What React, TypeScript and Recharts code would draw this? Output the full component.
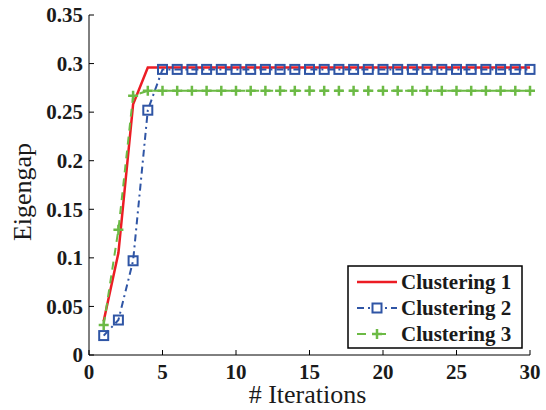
import React from 'react';
import { LineChart, Line, XAxis, YAxis, Legend } from 'recharts';

const iterations = [1, 2, 3, 4, 5, 6, 7, 8, 9, 10, 11, 12, 13, 14, 15, 16, 17, 18, 19, 20, 21, 22, 23, 24, 25, 26, 27, 28, 29, 30];
const clustering1 = [0.035, 0.105, 0.258, 0.296, 0.296, 0.296, 0.296, 0.296, 0.296, 0.296, 0.296, 0.296, 0.296, 0.296, 0.296, 0.296, 0.296, 0.296, 0.296, 0.296, 0.296, 0.296, 0.296, 0.296, 0.296, 0.296, 0.296, 0.296, 0.296, 0.296];
const clustering2 = [0.02, 0.036, 0.097, 0.252, 0.294, 0.294, 0.294, 0.294, 0.294, 0.294, 0.294, 0.294, 0.294, 0.294, 0.294, 0.294, 0.294, 0.294, 0.294, 0.294, 0.294, 0.294, 0.294, 0.294, 0.294, 0.294, 0.294, 0.294, 0.294, 0.294];
const clustering3 = [0.031, 0.129, 0.267, 0.272, 0.272, 0.272, 0.272, 0.272, 0.272, 0.272, 0.272, 0.272, 0.272, 0.272, 0.272, 0.272, 0.272, 0.272, 0.272, 0.272, 0.272, 0.272, 0.272, 0.272, 0.272, 0.272, 0.272, 0.272, 0.272, 0.272];
const seriesNames = ['Clustering 1', 'Clustering 2', 'Clustering 3'];
const xTicks = [0, 5, 10, 15, 20, 25, 30];
const yTicks = [0, 0.05, 0.1, 0.15, 0.2, 0.25, 0.3, 0.35];
const yTickLabels = ['0', '0.05', '0.1', '0.15', '0.2', '0.25', '0.3', '0.35'];

const data = iterations.map((it, i) => ({ it, c1: clustering1[i], c2: clustering2[i], c3: clustering3[i] }));

const FONT = 'Tinos, FreeSerif, serif';
const RED = '#ec1c24';
const BLUE = '#2f55a5';
const GREEN = '#6cba45';
const TICK_LEN = 5;

const yLabelFor = (v: number) => {
  const idx = yTicks.findIndex((t) => Math.abs(t - v) < 1e-9);
  return idx >= 0 ? yTickLabels[idx] : String(v);
};

const BoldText = (p: any) => (
  <text
    x={p.x}
    y={p.y}
    dy={p.dy}
    textAnchor={p.anchor}
    fill="#1a1a1a"
    style={{ fontFamily: FONT, fontWeight: 700, fontSize: 21 }}
  >
    {p.children}
  </text>
);

const BottomTick = (p: any) => (
  <g>
    <line x1={p.x} y1={p.y} x2={p.x} y2={p.y - TICK_LEN} stroke="#000" strokeWidth={1} />
    <BoldText x={p.x} y={p.y + 24} anchor="middle">{String(p.payload.value)}</BoldText>
  </g>
);
const TopTick = (p: any) => (
  <line x1={p.x} y1={p.y} x2={p.x} y2={p.y + TICK_LEN} stroke="#000" strokeWidth={1} />
);
const LeftTick = (p: any) => (
  <g>
    <line x1={p.x} y1={p.y} x2={p.x + TICK_LEN} y2={p.y} stroke="#000" strokeWidth={1} />
    <BoldText x={p.x - 6} y={p.y} dy="0.35em" anchor="end">{yLabelFor(p.payload.value)}</BoldText>
  </g>
);
const RightTick = (p: any) => (
  <line x1={p.x} y1={p.y} x2={p.x - TICK_LEN} y2={p.y} stroke="#000" strokeWidth={1} />
);

const SquareDot = (p: any) => {
  if (p.cx == null || p.cy == null) return <g key={p.index} />;
  return (
    <rect key={p.index} x={p.cx - 4.5} y={p.cy - 4.5} width={9} height={9} fill="none" stroke={BLUE} strokeWidth={2} />
  );
};
const PlusDot = (p: any) => {
  if (p.cx == null || p.cy == null) return <g key={p.index} />;
  return (
    <path key={p.index} d={`M${p.cx - 5},${p.cy}h10M${p.cx},${p.cy - 5}v10`} stroke={GREEN} strokeWidth={2.5} fill="none" />
  );
};

const renderLegend = () => (
  <svg width={176} height={84} style={{ display: 'block' }}>
    <rect x={1} y={1} width={174} height={82} fill="#fff" stroke="#000" strokeWidth={1.5} />
    <line x1={10} y1={17} x2={50} y2={17} stroke={RED} strokeWidth={2.5} />
    <line x1={10} y1={43} x2={50} y2={43} stroke={BLUE} strokeWidth={2} strokeDasharray="7 4 2 4" />
    <rect x={25.5} y={38.5} width={9} height={9} fill="#fff" stroke={BLUE} strokeWidth={2} />
    <line x1={10} y1={69} x2={50} y2={69} stroke={GREEN} strokeWidth={2} strokeDasharray="9 11" />
    <path d="M25,69h10M30,64v10" stroke={GREEN} strokeWidth={2.5} />
    {seriesNames.map((n, i) => (
      <BoldText key={n} x={54} y={17 + i * 26} dy="0.33em" anchor="start">{n}</BoldText>
    ))}
  </svg>
);

const PlainText = (p: any) => (
  <text
    x={p.x}
    y={p.y}
    transform={p.transform}
    textAnchor="middle"
    fill="#1a1a1a"
    style={{ fontFamily: FONT, fontSize: 26, fontWeight: 400 }}
  >
    {p.children}
  </text>
);

const YLabel = (props: any) => {
  const vb = props.viewBox || { x: 0, y: 15, width: 89, height: 340 };
  const cx = 31;
  const cy = vb.y + vb.height / 2 + 7;
  return <PlainText x={cx} y={cy} transform={`rotate(-90 ${cx} ${cy})`}>Eigengap</PlainText>;
};
const XLabel = (props: any) => {
  const vb = props.viewBox || { x: 89, y: 355, width: 441, height: 55 };
  const cx = vb.x + vb.width / 2 - 2;
  return <PlainText x={cx} y={403}>{'# Iterations'}</PlainText>;
};

export default function App() {
  return (
    <div style={{ position: 'absolute', left: 0, top: 0, width: 546, height: 410, background: '#fff', fontFamily: FONT }}>
      <LineChart width={546} height={410} data={data} margin={{ top: 15, right: 16, bottom: 0, left: 0 }}>
        <XAxis
          dataKey="it"
          type="number"
          domain={[0, 30]}
          ticks={xTicks}
          height={55}
          tickSize={0}
          tickMargin={0}
          tickLine={false}
          tick={BottomTick}
          axisLine={{ stroke: '#000', strokeWidth: 1 }}
          interval={0}
          label={{ content: XLabel }}
        />
        <XAxis
          xAxisId="top"
          orientation="top"
          dataKey="it"
          type="number"
          domain={[0, 30]}
          ticks={xTicks}
          height={0}
          tickSize={0}
          tickMargin={0}
          tickLine={false}
          tick={TopTick}
          axisLine={{ stroke: '#000', strokeWidth: 1 }}
          interval={0}
        />
        <YAxis
          type="number"
          domain={[0, 0.35]}
          ticks={yTicks}
          width={89}
          tickSize={0}
          tickMargin={0}
          tickLine={false}
          tick={LeftTick}
          axisLine={{ stroke: '#000', strokeWidth: 1 }}
          interval={0}
          label={{ content: YLabel }}
        />
        <YAxis
          yAxisId="right"
          orientation="right"
          type="number"
          domain={[0, 0.35]}
          ticks={yTicks}
          width={0}
          tickSize={0}
          tickMargin={0}
          tickLine={false}
          tick={RightTick}
          axisLine={{ stroke: '#000', strokeWidth: 1 }}
          interval={0}
        />
        <Line dataKey="c1" name={seriesNames[0]} stroke={RED} strokeWidth={2.5} dot={false} activeDot={false} isAnimationActive={false} />
        <Line dataKey="c2" name={seriesNames[1]} stroke={BLUE} strokeWidth={2} strokeDasharray="7 4 2 4" dot={SquareDot} activeDot={false} isAnimationActive={false} />
        <Line dataKey="c3" name={seriesNames[2]} stroke={GREEN} strokeWidth={2} strokeDasharray="8 6" dot={PlusDot} activeDot={false} isAnimationActive={false} />
        <Legend
          layout="horizontal"
          verticalAlign="middle"
          align="center"
          content={renderLegend}
          wrapperStyle={{ position: 'absolute', left: 347, top: 265, width: 176, height: 84 }}
        />
      </LineChart>
    </div>
  );
}
